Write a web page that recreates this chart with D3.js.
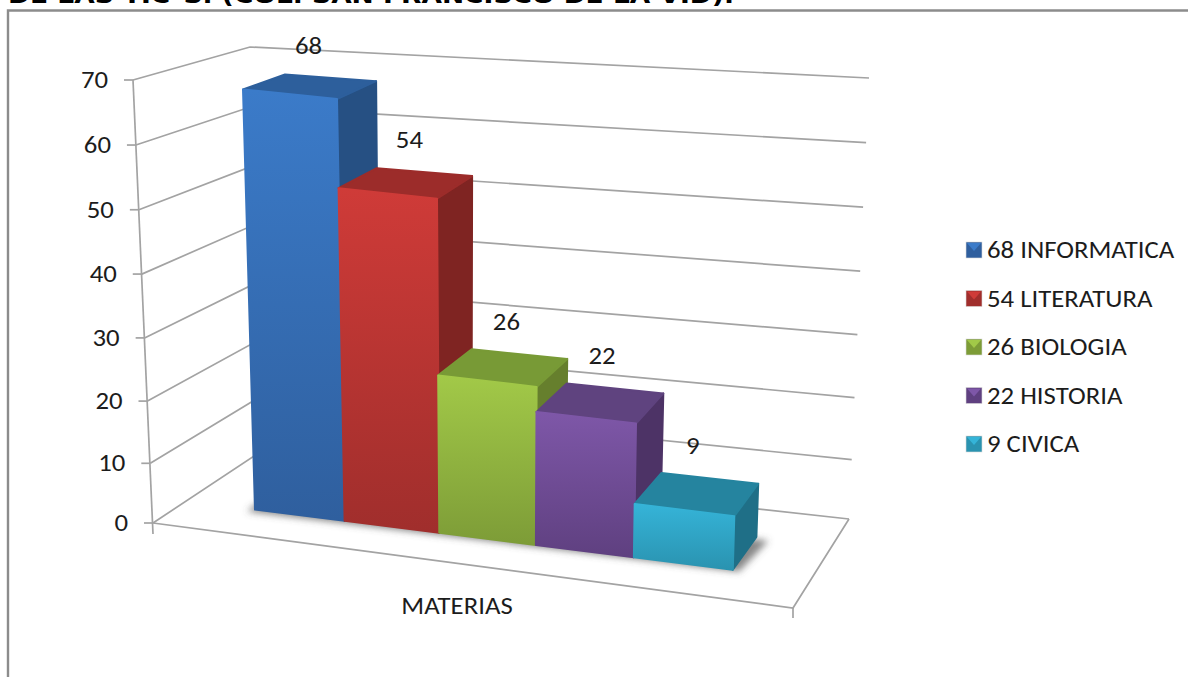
<!DOCTYPE html>
<html>
<head>
<meta charset="utf-8">
<style>
html,body{margin:0;padding:0;background:#fff;overflow:hidden}
svg{display:block}
text{font-family:Carlito,Lato,"Open Sans",sans-serif;fill:#1c1c1c}
</style>
<script src="https://cdn.jsdelivr.net/npm/d3@7/dist/d3.min.js"></script>
</head>
<body>
<svg id="c" width="1188" height="677"></svg>
<script>
const categories = ["INFORMATICA","LITERATURA","BIOLOGIA","HISTORIA","CIVICA"];
const values = [68,54,26,22,9];
const valueTicks = [0,10,20,30,40,50,60,70];
const axisTitle = "MATERIAS";
const titleText = "DE LAS TIC´S. (COL. SAN FRANCISCO DE LA VID).";
const faceColors = ["#3b7bc9","#cf3b38","#a2c948","#7e57a8","#35b4d8"];
const bottomColors = ["#2f5f9e","#a02e2c","#7d9c37","#5f4080","#2a93b0"];
const topColors = ["#2d5f9c","#9c2c2a","#789a36","#5f437f","#25849f"];
const sideColors = ["#265083","#7f2422","#667f2d","#4d3366","#1f6f87"];
const labelShift = [-22,-15,-13,-13,-17];

const svg = d3.select("#c");
const defs = svg.append("defs");

// Chart box corners of the 3D plot
const corners = {
  flb:[153,523], frb:[793,608], blb:[257,454], brb:[849,519],
  flt:[133,80],  frt:[807,163], blt:[250,47],  brt:[869,78]
};
const vScale = d3.scalePow().exponent(1.03).domain([0,70]).range([0,1]);
const lerp = (a,b,t)=>[a[0]+(b[0]-a[0])*t, a[1]+(b[1]-a[1])*t];
function P(u,v,w){
  const c=corners;
  const bottom = lerp(lerp(c.flb,c.frb,u), lerp(c.blb,c.brb,u), w);
  const top = lerp(lerp(c.flt,c.frt,u), lerp(c.blt,c.brt,u), w);
  return lerp(bottom,top,vScale(v));
}
const uScale = d3.scalePow().exponent(1.04).domain([0,categories.length]).range([0.11,0.875]);
const wFront = 0.32, wBack = 0.70;
const poly = pts => pts.map(p=>p.map(n=>n.toFixed(1)).join(",")).join(" ");
const stretchX = 1.115;
const fontSize = 24;
function label(x,y,anchor,str){
  const t=svg.append("text").attr("x",x).attr("y",y).attr("text-anchor",anchor).style("font-size",fontSize+"px").text(str);
  const len=t.node().getComputedTextLength();
  t.attr("textLength",(len*stretchX).toFixed(1)).attr("lengthAdjust","spacingAndGlyphs");
  return t;
}

// Frame
svg.append("path").attr("d","M8,677V10.5H1188").attr("fill","none").attr("stroke","#8c8c8c").attr("stroke-width",2.4);

// Title, cut by the top edge
svg.append("text").attr("x",8).attr("y",3).attr("textLength",726).attr("lengthAdjust","spacingAndGlyphs")
  .style("font-family","'DejaVu Sans',sans-serif").style("font-weight","bold").style("font-size","22px").style("fill","#000")
  .text(titleText);

// Walls
const grid = svg.append("g").attr("fill","none").attr("stroke","#a3a3a3").attr("stroke-width",1.7);
valueTicks.forEach(t=>{
  const a=P(0,t,0), b=P(0,t,1), c=P(1,t,1);
  grid.append("polyline").attr("points",poly([a,b,c]));
  grid.append("line").attr("x1",a[0]-9).attr("x2",a[0]).attr("y1",a[1]).attr("y2",a[1]);
  label(a[0]-25,a[1]+8,"end",t);
});
grid.append("line").attr("x1",P(0,70,0)[0]).attr("y1",P(0,70,0)[1]).attr("x2",P(0,0,0)[0]).attr("y2",P(0,0,0)[1]+11);
grid.append("polyline").attr("points",poly([P(0,0,0),P(1,0,0),P(1,0,1)]));
grid.append("line").attr("x1",P(1,0,0)[0]).attr("y1",P(1,0,0)[1]).attr("x2",P(1,0,0)[0]).attr("y2",P(1,0,0)[1]+10);

// Shadow
const blur = defs.append("filter").attr("id","soft").attr("x","-20%").attr("y","-20%").attr("width","140%").attr("height","140%");
blur.append("feGaussianBlur").attr("stdDeviation",3.5);
const n = categories.length;
svg.append("polygon").attr("filter","url(#soft)").attr("fill","#555").attr("fill-opacity",.7)
  .attr("points",poly([
    P(uScale(0),0,wBack).map((d,i)=>d+(i?0:-8)),
    P(uScale(0),0,wFront).map((d,i)=>d+(i?2:-8)),
    P(uScale(n),0,wFront).map((d,i)=>d+(i?2:6)),
    P(uScale(n),0,wBack).map((d,i)=>d+(i?4:12))
  ]));

// Bars
values.forEach((v,i)=>{
  const u0=uScale(i), u1=uScale(i+1);
  const id="g"+i;
  const g=defs.append("linearGradient").attr("id",id).attr("gradientUnits","userSpaceOnUse")
    .attr("x1",0).attr("x2",0).attr("y1",P(u0,v,wFront)[1]).attr("y2",P(u1,0,wFront)[1]);
  g.append("stop").attr("offset",0).attr("stop-color",faceColors[i]);
  g.append("stop").attr("offset",1).attr("stop-color",bottomColors[i]);
  const bar=svg.append("g").attr("stroke-linejoin","round").attr("stroke-width",2);
  const draw=(pts,fill)=>bar.append("polygon").attr("points",poly(pts)).attr("fill",fill).attr("stroke",fill);
  draw([P(u1,0,wFront),P(u1,v,wFront),P(u1,v,wBack),P(u1,0,wBack)],sideColors[i]);
  draw([P(u0,v,wFront),P(u0,v,wBack),P(u1,v,wBack),P(u1,v,wFront)],topColors[i]);
  draw([P(u0,0,wFront),P(u0,v,wFront),P(u1,v,wFront),P(u1,0,wFront)],`url(#${id})`);
});

// Data labels
values.forEach((v,i)=>{
  const p=P((uScale(i)+uScale(i+1))/2,v,wBack);
  label(p[0]+labelShift[i],p[1]-24,"middle",v);
});

// Axis title
label(457,614,"middle",axisTitle);

// Legend
const legendY = d3.scalePoint().domain(categories).range([250,444]);
categories.forEach((c,i)=>{
  const y=legendY(c), x=966, s=16;
  const g=svg.append("g");
  g.append("rect").attr("x",x).attr("y",y-s/2).attr("width",s).attr("height",s).attr("fill",bottomColors[i]).attr("stroke","#d9d9d9").attr("stroke-width",.6);
  g.append("polygon").attr("points",poly([[x+1,y-s/2+1],[x+s-1,y-s/2+1],[x+s/2,y+1]])).attr("fill",faceColors[i]);
  label(987,y+8,"start",values[i]+" "+c);
});
</script>
</body>
</html>
